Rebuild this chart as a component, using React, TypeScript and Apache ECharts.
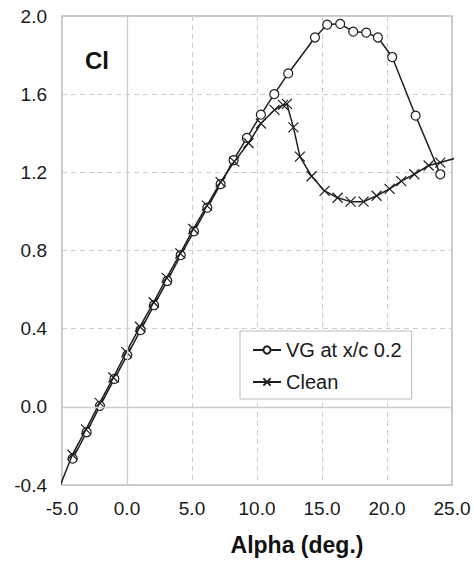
import React, { useEffect, useRef } from "react";
import * as echarts from "echarts";

const vgAlpha = [-4.18, -3.1, -2.08, -0.97, 0.02, 1.05, 2.08, 3.1, 4.13, 5.15, 6.18, 7.2, 8.2, 9.22, 10.3, 11.33, 12.4, 14.46, 15.4, 16.4, 17.4, 18.4, 19.3, 20.4, 22.2, 24.1];
const vgCl = [-0.265, -0.13, 0.005, 0.143, 0.265, 0.393, 0.52, 0.644, 0.776, 0.898, 1.019, 1.14, 1.262, 1.376, 1.495, 1.6, 1.706, 1.89, 1.956, 1.96, 1.92, 1.915, 1.89, 1.79, 1.49, 1.19];

const cleanAlpha = [-5.3, -4.2, -3.15, -2.1, -1.05, -0.05, 1.0, 2.05, 3.05, 4.1, 5.1, 6.15, 7.2, 8.25, 9.35, 10.3, 11.35, 12.0, 12.3, 12.8, 13.3, 14.2, 15.2, 16.2, 17.2, 18.2, 19.2, 20.2, 21.1, 22.1, 23.2, 24.1, 25.4];
const cleanCl = [-0.43, -0.245, -0.115, 0.02, 0.15, 0.28, 0.41, 0.535, 0.66, 0.785, 0.91, 1.03, 1.15, 1.255, 1.35, 1.45, 1.52, 1.545, 1.55, 1.43, 1.28, 1.18, 1.105, 1.07, 1.05, 1.05, 1.08, 1.115, 1.155, 1.19, 1.235, 1.25, 1.275];

const seriesNames = ["VG at x/c 0.2", "Clean"];
const xLabel = "Alpha (deg.)";
const yLabel = "Cl";

const FONT = "'Liberation Sans', Arial, Helvetica, sans-serif";
const LINE = "#1e1e1e";
const GRID = "#c6cece";

export default function App() {
  const ref = useRef<HTMLDivElement>(null);
  useEffect(() => {
    if (!ref.current) return;
    const chart = echarts.init(ref.current, null, { renderer: "svg" });
    const vg = vgAlpha.map((a, i) => [a, vgCl[i]]);
    const clean = cleanAlpha.map((a, i) => [a, cleanCl[i]]);
    chart.setOption({
      animation: false,
      backgroundColor: "#fff",
      textStyle: { fontFamily: FONT },
      grid: {
        left: 62,
        top: 16,
        right: 22,
        bottom: 76,
        show: true,
        borderColor: "#b4bcbc",
        borderWidth: 1.5,
        backgroundColor: "transparent",
      },
      xAxis: {
        type: "value",
        min: -5,
        max: 25,
        interval: 5,
        axisLine: { show: false },
        axisTick: { show: false },
        axisLabel: {
          margin: 14,
          fontSize: 19,
          color: "#1a1a1a",
          fontFamily: FONT,
          formatter: (v: number) => v.toFixed(1),
        },
        splitLine: { show: true, lineStyle: { color: GRID, type: [5, 4], width: 1 } },
      },
      yAxis: {
        type: "value",
        min: -0.4,
        max: 2.0,
        interval: 0.4,
        axisLine: { show: false },
        axisTick: { show: false },
        axisLabel: {
          margin: 15,
          fontSize: 19,
          color: "#1a1a1a",
          fontFamily: FONT,
          formatter: (v: number) => v.toFixed(1),
        },
        splitLine: { show: true, lineStyle: { color: GRID, type: [5, 4], width: 1 } },
      },
      legend: {
        orient: "vertical",
        left: 240,
        top: 331,
        width: 190,
        padding: [9, 10, 7, 12],
        itemGap: 12,
        itemWidth: 28,
        itemHeight: 9,
        backgroundColor: "#fff",
        borderColor: "#b4bcbc",
        borderWidth: 1,
        borderRadius: 0,
        textStyle: { fontSize: 20, color: "#1a1a1a", fontFamily: FONT, lineHeight: 20 },
        data: seriesNames,
      },
      graphic: [
        {
          type: "text",
          left: 85,
          top: 48,
          style: { text: yLabel, font: `bold 24px ${FONT}`, fill: "#111" },
        },
        {
          type: "text",
          x: 297,
          y: 545,
          style: {
            text: xLabel,
            font: `bold 23px ${FONT}`,
            fill: "#111",
            textAlign: "center",
            textVerticalAlign: "middle",
          },
        },
      ],
      series: [
        {
          type: "line",
          name: "_zero",
          data: [],
          z: 1,
          silent: true,
          markLine: {
            silent: true,
            symbol: "none",
            label: { show: false },
            lineStyle: { color: GRID, type: "solid", width: 1.3 },
            data: [{ xAxis: 0 }, { yAxis: 0 }],
          },
        },
        {
          type: "line",
          name: seriesNames[0],
          data: vg,
          clip: true,
          symbol: "circle",
          symbolSize: 9,
          showAllSymbol: true,
          lineStyle: { color: LINE, width: 1.5 },
          itemStyle: { color: "#fff", borderColor: LINE, borderWidth: 1.2 },
          z: 3,
        },
        {
          type: "line",
          name: seriesNames[1],
          data: clean,
          clip: true,
          symbol: "path://M0,0L10,10M0,10L10,0",
          symbolSize: 10,
          showAllSymbol: true,
          lineStyle: { color: LINE, width: 1.5 },
          itemStyle: { color: "none", borderColor: LINE, borderWidth: 1.2 },
          z: 4,
        },
      ],
    });
    return () => chart.dispose();
  }, []);
  return (
    <div
      ref={ref}
      style={{ position: "fixed", left: 0, top: 0, width: 474, height: 561, background: "#fff" }}
    />
  );
}
